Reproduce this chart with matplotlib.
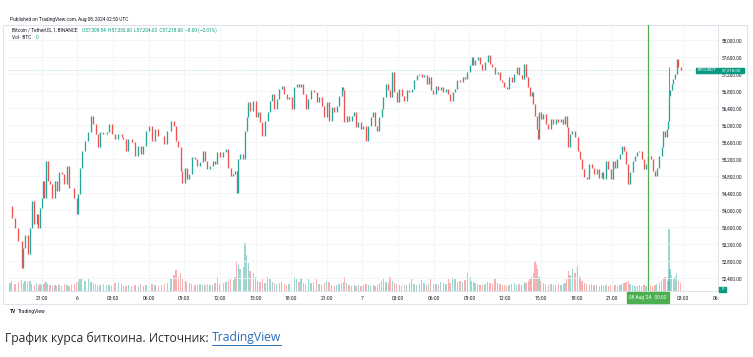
import matplotlib
matplotlib.use("Agg")
import matplotlib.pyplot as plt
from matplotlib.patches import Rectangle
from matplotlib.lines import Line2D
import numpy as np

plt.rcParams['font.family'] = ['Roboto', 'DejaVu Sans']

# ---------------- data (hours since 2024-08-05 00:00 UTC, price in USDT) -------------
times = [18.33,18.47,18.75,19.03,19.32,19.45,19.59,19.82,20.02,20.16,20.38,20.58,20.71,20.86,
         21.00,21.14,21.22,21.36,21.51,21.70,21.89,22.12,22.26,22.46,22.68,22.90,23.13,23.30,23.53,23.74,23.95,
         24.08,24.22,24.37,24.65,24.92,25.15,25.34,25.55,25.71,25.91,26.19,26.47,26.67,26.89,27.17,27.45,27.73,
         27.87,28.10,28.29,28.58,28.85,29.13,29.33,29.55,29.78,30.06,30.29,30.54,30.82,31.10,31.32,31.57,
         31.88,32.14,32.31,32.50,32.70,32.84,
         33.06,33.21,33.43,33.63,33.91,34.10,34.33,34.55,34.75,34.94,35.17,35.40,35.59,35.78,36.01,36.29,36.51,36.71,36.91,37.13,37.27,
         37.42,37.55,37.69,37.97,38.11,38.26,38.39,38.53,38.81,39.01,
         39.18,39.38,39.57,39.80,40.02,40.22,40.41,40.58,40.78,41.00,41.20,41.42,41.62,41.82,42.05,
         42.26,42.47,42.66,42.83,43.02,43.22,43.44,43.67,43.90,44.15,44.34,44.57,44.79,44.99,45.19,45.41,45.63,45.83,46.03,46.25,46.39,46.47,46.67,46.87,47.10,47.32,
         47.46,47.65,47.88,48.07,48.30,48.49,48.70,48.92,49.06,49.25,49.42,49.62,49.76,49.98,50.18,50.32,50.51,50.68,50.88,51.10,51.30,51.52,51.73,51.95,52.15,52.34,52.57,52.79,
         52.99,53.18,53.41,53.58,53.75,53.97,54.19,54.39,54.59,54.81,55.03,55.23,55.37,55.60,55.79,55.99,56.21,56.44,56.63,
         56.84,57.05,57.20,57.33,57.48,57.70,57.90,58.09,58.32,58.55,58.74,58.93,59.16,59.39,59.58,59.78,59.94,60.15,60.34,60.57,60.78,60.99,61.18,61.41,61.63,61.77,
         61.96,62.11,62.25,62.38,62.53,62.67,62.75,62.86,63.03,63.23,63.43,63.65,63.87,64.07,64.27,64.49,64.71,64.91,65.05,65.19,
         65.33,65.47,65.67,65.89,66.12,66.31,66.48,66.68,66.88,67.10,67.30,67.49,67.72,67.94,68.14,
         68.28,68.50,68.70,68.90,69.07,69.26,69.45,69.68,69.82,70.02,70.19,70.38,70.52,70.75,70.94,71.14,71.31,71.51,71.70,71.87,
         72.06,72.27,72.43,72.63,72.77,72.99,73.19,73.33,73.47,73.66,73.75,73.81,73.89,74.03,74.17,74.31,74.45,74.59,74.79]

closes = [54100,53825,53590,53270,52640,53115,53430,52960,53590,54220,53675,53910,53590,54060,
          54300,54690,54300,55160,54690,54620,54300,54690,54455,54890,54850,54620,55045,54535,54535,54300,53905,
          54375,55005,55400,55635,55835,56230,56030,55795,55480,55835,55795,55835,56030,55795,55675,55795,55715,
          55675,55400,55675,55600,55280,55520,55320,55520,55875,55990,55635,55915,55755,55755,55560,55875,
          56110,55990,55635,55480,54930,54650,
          55005,54730,54850,55245,55205,55045,55125,55400,55165,54970,55045,55165,55085,55360,55245,55360,55440,55005,54810,54850,54930,
          54415,55205,55330,55205,55875,56190,56540,56345,56580,56190,
          56305,56070,55755,56110,56305,56580,56740,56385,56620,56860,56935,56740,56620,56660,56385,
          56895,56975,56895,56975,56740,56385,56620,56820,56780,56540,56660,56465,56190,56540,56110,56425,56305,56465,56700,56895,56820,56070,56230,56110,56230,56305,
          55950,56070,55915,55990,55635,55990,56190,56305,55990,55875,56190,56385,56660,56975,56820,56660,57250,56780,56540,56860,56700,56580,56820,56780,56860,57055,57175,57215,
          57135,57175,56975,57135,56820,56740,56935,56820,56895,56780,56860,56740,56580,56780,56860,57055,57015,57135,57095,
          57250,57410,57605,57410,57525,57605,57450,57290,57490,57645,57450,57370,57215,57250,57055,57015,56895,56860,57135,57015,57215,57370,57175,57095,57450,57135,
          56895,56700,56780,56505,56230,55915,55675,56305,56150,56265,56030,55915,56150,56030,56150,56070,56150,56030,56230,55950,
          55480,55795,55875,55715,55400,55205,54960,54790,54730,55085,55005,54850,54970,54770,54890,
          54730,55165,54970,54730,55165,55005,55205,55320,55520,55400,55085,54615,54890,55165,55280,55360,55400,55205,54970,55085,
          55280,55205,54930,54810,55005,55280,55480,55875,55715,55915,56110,56700,56820,56975,57095,57215,57565,57370,57290]

volumes = [8,10,7,9,11,8,10,9,10,7,6,8,6,7,
           6,7,8,9,7,6,5,6,5,6,5,7,6,5,6,7,9,
           10,12,13,10,12,9,8,7,6,6,7,6,6,5,8,9,7,
           5,5,6,5,6,5,7,5,6,6,7,6,5,6,7,8,
           12,16,21,14,18,12,
           10,9,8,7,6,6,7,6,6,7,6,6,8,14,7,8,9,10,12,11,14,
           30,26,22,24,48,36,28,20,18,14,
           10,9,12,8,14,13,9,8,7,8,9,7,6,7,8,
           14,12,9,13,8,7,12,8,9,13,7,6,8,10,9,6,5,6,7,8,9,14,8,6,5,6,
           5,6,5,6,7,6,5,6,5,6,8,10,13,9,8,14,10,8,7,6,5,6,6,8,12,7,6,7,
           11,8,6,7,12,7,7,6,9,8,7,12,8,14,12,9,10,9,11,
           18,14,10,9,8,7,6,6,7,9,8,7,13,8,7,6,6,5,6,7,8,6,7,6,9,8,
           10,12,14,18,30,26,22,14,10,8,7,6,7,6,6,7,6,7,8,12,
           20,16,22,18,25,14,10,8,7,6,7,6,6,5,6,
           5,6,5,6,5,6,5,6,7,8,9,10,7,6,5,5,6,5,6,5,
           5,6,5,6,7,8,10,12,14,10,14,62,22,16,12,14,18,10,8]

spike_times = [73.81]
spike_highs = [57370]

price_ticks = [52400, 52800, 53200, 53600, 54000, 54400, 54800, 55200, 55600,
               56000, 56400, 56800, 57200, 57600, 58000]
time_ticks = [21, 24, 27, 30, 33, 36, 39, 42, 45, 48, 51, 54, 57, 60, 63, 66, 69, 75]
time_labels = ["21:00", "6", "03:00", "06:00", "09:00", "12:00", "15:00", "18:00",
               "21:00", "7", "03:00", "06:00", "09:00", "12:00", "15:00", "18:00",
               "21:00", "03:00"]
crosshair_time = 72
crosshair_label = "08 Aug '24   00:00"
last_label = "57,218.00"
header_title = "Bitcoin / TetherUS, 1, BINANCE"
header_ohlc = "O57,309.54  H57,330.00  L57,204.00  C57,218.00  −8.00 (−0.01%)"
published = "Published on TradingView.com, Aug 08, 2024 02:50 UTC"

GREEN = '#26a69a'
RED = '#ef5350'
TEAL = '#089981'
DARK = '#131722'

# ---------------- figure ----------------
W, H = 753, 357
def fx(x): return x / W
def fy(y): return 1 - y / H

fig = plt.figure(figsize=(W / 100, H / 100), dpi=100)
fig.patch.set_facecolor('white')

fig.add_artist(Rectangle((fx(3), fy(304)), fx(747) - fx(3), fy(25) - fy(304),
                         transform=fig.transFigure, fill=False, edgecolor='#e0e3eb', lw=0.8))

rect = [fx(8), fy(291), fx(718) - fx(8), fy(25) - fy(291)]
ax = fig.add_axes(rect)
axv = fig.add_axes(rect, sharex=ax)
axv.set_zorder(1)
ax.set_zorder(2)
ax.patch.set_visible(False)
axv.axis('off')

ax.set_xlim(18.16, 77.93)
ax.set_ylim(52101, 58360)
axv.set_ylim(0, 266)

ax.set_yticks(price_ticks)
ax.set_yticklabels([f"{v:,.2f}" for v in price_ticks])
ax.set_xticks(time_ticks)
ax.set_xticklabels(time_labels)
ax.grid(True, color='#f2f4f8', lw=0.6)
ax.set_axisbelow(True)
ax.yaxis.tick_right()
ax.tick_params(axis='y', length=0, pad=2.9, labelsize=3.4, labelcolor=DARK)
ax.tick_params(axis='x', length=0, pad=3.6, labelsize=3.6, labelcolor=DARK)
for s in ['top', 'left']:
    ax.spines[s].set_visible(False)
for s in ['bottom', 'right']:
    ax.spines[s].set_color('#e0e3eb')
    ax.spines[s].set_linewidth(0.7)

# volume
opens = [closes[0]] + closes[:-1]
up = [c >= o for o, c in zip(opens, closes)]
vcol = [(38/255, 166/255, 154/255, 0.45) if u else (239/255, 83/255, 80/255, 0.45) for u in up]
axv.bar(times, volumes, width=0.11, color=vcol, linewidth=0)

# candles
ccol = [GREEN if u else RED for u in up]
lo = np.minimum(opens, closes)
hi = np.maximum(opens, closes)
ax.vlines(times, lo, hi, colors=ccol, lw=0.95, zorder=3)
ax.vlines(spike_times, [closes[times.index(t)] for t in spike_times], spike_highs,
          colors=RED, lw=0.7, zorder=3)

# last price dotted line
ax.axhline(closes[-1], color=TEAL, lw=0.5, ls=(0, (1, 2)), alpha=0.55, zorder=2)

# crosshair
ax.axvline(crosshair_time, color='#4caf50', lw=0.9, zorder=4)

# price labels on the right
ypx = ax.transData.transform((0, closes[-1]))[1]
bh = 5.8 / H
yb = fig.transFigure.inverted().transform((0, ypx))[1]
fig.add_artist(Rectangle((fx(696), yb - bh / 2), fx(717) - fx(696), bh, transform=fig.transFigure,
                         color=TEAL, zorder=10))
fig.add_artist(Rectangle((fx(718), yb - bh / 2), fx(744) - fx(718), bh, transform=fig.transFigure,
                         color=TEAL, zorder=10))
fig.text(fx(706.5), yb, "BTCUSDT", color='white', fontsize=3.1, ha='center', va='center', zorder=11)
fig.text(fx(731), yb, last_label, color='white', fontsize=3.2, ha='center', va='center', zorder=11)

# volume label
fig.add_artist(Rectangle((fx(719), fy(292)), fx(726) - fx(719), 5.5 / H, transform=fig.transFigure,
                         color=TEAL, zorder=10))
fig.text(fx(722.5), fy(289.2), "0", color='white', fontsize=3.2, ha='center', va='center', zorder=11)

# crosshair time label
xc = ax.transData.transform((crosshair_time, 0))[0] / fig.bbox.width
fig.add_artist(Rectangle((xc - 21 / W, fy(303)), 42 / W, 11 / H, transform=fig.transFigure,
                         color='#4caf50', zorder=10))
fig.text(xc, fy(297.5), crosshair_label, color='white', fontsize=3.4, ha='center', va='center', zorder=11)

# clipped next tick label at the right edge
fig.text(fx(716.5), fy(298), "06:", color=DARK, fontsize=3.6, ha='center', va='center')

# header texts
fig.text(fx(10), fy(20), published, color=DARK, fontsize=3.4, ha='left', va='center')
fig.text(fx(12), fy(30.5), header_title, color=DARK, fontsize=3.4, ha='left', va='center')
fig.text(fx(82), fy(30.5), header_ohlc, color=TEAL, fontsize=3.4, ha='left', va='center')
fig.text(fx(12), fy(37.5), "Vol · BTC", color=DARK, fontsize=3.4, ha='left', va='center')
fig.text(fx(35.5), fy(37.5), "0", color=TEAL, fontsize=3.4, ha='left', va='center')

# TradingView logo text
fig.text(fx(10), fy(311.5), "TV", color=DARK, fontsize=3.6, fontweight='bold', ha='left', va='center')
fig.text(fx(18), fy(311.5), "TradingView", color=DARK, fontsize=3.6, ha='left', va='center')

# caption
cap = fig.text(fx(5), fy(338), "График курса биткоина. Источник: ", color='#2b2b2b', fontsize=8.7,
               family=['Open Sans', 'DejaVu Sans'], ha='left', va='center')
fig.canvas.draw()
bb = cap.get_window_extent()
link = fig.text(bb.x1 / fig.bbox.width, fy(338), "TradingView", color='#2a6ebf', fontsize=8.7,
                family=['Open Sans', 'DejaVu Sans'], ha='left', va='center')
fig.canvas.draw()
lb = link.get_window_extent()
fig.add_artist(Line2D([lb.x0 / fig.bbox.width, lb.x1 / fig.bbox.width], [fy(344.5), fy(344.5)],
                      transform=fig.transFigure, color='#2a6ebf', lw=0.7))

fig.savefig("out.png", dpi=100, facecolor='white')
